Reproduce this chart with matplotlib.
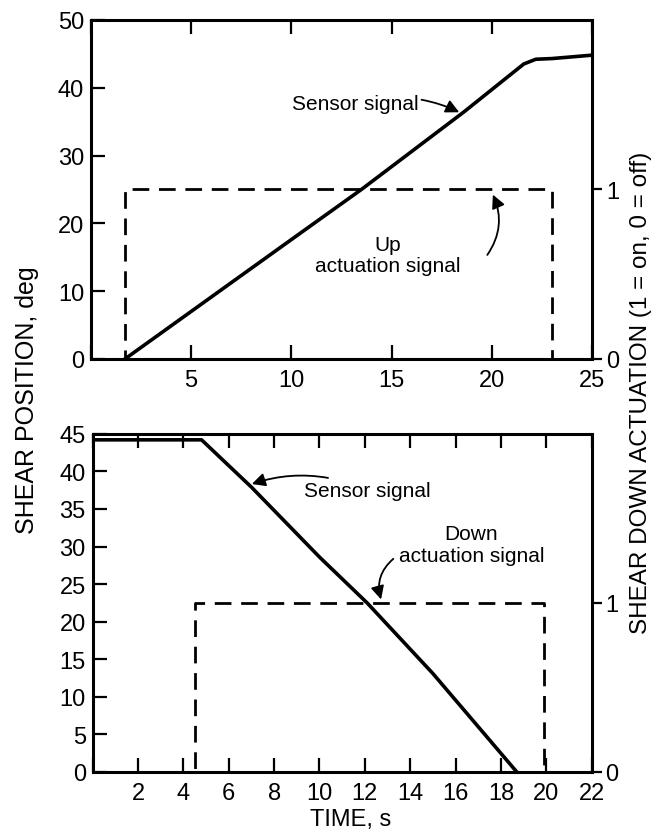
import matplotlib
matplotlib.use("Agg")
import matplotlib.pyplot as plt

# upper panel: shear up
up_time = [1.7, 5.0, 10.0, 13.5, 18.6, 21.6, 22.2, 23.0, 25.0]
up_position = [0.0, 7.0, 17.6, 25.0, 36.4, 43.5, 44.2, 44.3, 44.8]
up_act_time = [0.0, 1.7, 1.7, 23.0, 23.0, 25.0]
up_act_value = [0, 0, 1, 1, 0, 0]

# lower panel: shear down
down_time = [0.0, 4.8, 7.0, 10.0, 12.1, 15.0, 18.7]
down_position = [44.2, 44.2, 37.9, 28.6, 22.5, 13.1, 0.0]
down_act_time = [0.0, 4.5, 4.5, 19.9, 19.9, 22.0]
down_act_value = [0, 0, 1, 1, 0, 0]

plt.rcParams['font.family'] = ['Liberation Sans', 'DejaVu Sans']
FS = 17
AFS = 15

fig = plt.figure(figsize=(6.67, 8.37), dpi=100)
ax1 = fig.add_axes([0.1364, 0.570, 0.751, 0.405])
ax2 = fig.add_axes([0.139, 0.0765, 0.748, 0.404])


def style_axes(ax):
    for sp in ax.spines.values():
        sp.set_linewidth(2.2)
    ax.tick_params(direction='in', length=10, width=1.6, labelsize=FS,
                   top=True, right=False)
    ax.tick_params(axis='x', pad=7)
    ax.tick_params(axis='y', pad=5)


def style_twin(ax):
    ax.set_ylim(0, 2)
    ax.set_yticks([0, 1])
    ax.set_yticklabels(['0', '1'])
    ax.tick_params(axis='y', direction='out', length=7, width=1.6,
                   labelsize=FS, pad=3)


# upper
ax1.plot(up_time, up_position, color='black', lw=2.6)
ax1.set_xlim(0, 25)
ax1.set_ylim(0, 50)
ax1.set_xticks([0, 5, 10, 15, 20, 25])
ax1.set_xticklabels(['', '5', '10', '15', '20', '25'])
ax1.set_yticks([0, 10, 20, 30, 40, 50])
style_axes(ax1)
t1 = ax1.twinx()
t1.plot(up_act_time, up_act_value, color='black', lw=2.0, dashes=(6, 3.5))
t1.set_xlim(0, 25)
style_twin(t1)

ax1.annotate('Sensor signal', xy=(18.5, 36.2), xytext=(13.2, 37.6),
             fontsize=AFS, ha='center', va='center',
             arrowprops=dict(arrowstyle='-|>', color='black', lw=1.3,
                             mutation_scale=20, shrinkA=50,
                             connectionstyle='arc3,rad=-0.2'))
ax1.text(14.8, 15.3, 'Up\nactuation signal', fontsize=AFS, ha='center',
         va='center', linespacing=1.1)
ax1.annotate('', xy=(20.0, 24.6), xytext=(19.7, 15.0),
             arrowprops=dict(arrowstyle='-|>', color='black', lw=1.3,
                             mutation_scale=20,
                             connectionstyle='arc3,rad=0.3'))

# lower
ax2.plot(down_time, down_position, color='black', lw=2.6)
ax2.set_xlim(0, 22)
ax2.set_ylim(0, 45)
ax2.set_xticks(list(range(0, 23, 2)))
ax2.set_xticklabels([''] + [str(v) for v in range(2, 23, 2)])
ax2.set_yticks(list(range(0, 46, 5)))
style_axes(ax2)
t2 = ax2.twinx()
t2.plot(down_act_time, down_act_value, color='black', lw=2.0, dashes=(6, 3.5))
t2.set_xlim(0, 22)
style_twin(t2)

ax2.annotate('Sensor signal', xy=(6.9, 38.2), xytext=(12.1, 37.5),
             fontsize=AFS, ha='center', va='center',
             arrowprops=dict(arrowstyle='-|>', color='black', lw=1.3,
                             mutation_scale=20, shrinkA=60,
                             connectionstyle='arc3,rad=0.2'))
ax2.text(16.7, 30.3, 'Down\nactuation signal', fontsize=AFS, ha='center',
         va='center', linespacing=1.2)
ax2.annotate('', xy=(12.75, 22.6), xytext=(13.35, 28.6),
             arrowprops=dict(arrowstyle='-|>', color='black', lw=1.3,
                             mutation_scale=20,
                             connectionstyle='arc3,rad=0.35'))

fig.text(0.04, 0.522, 'SHEAR POSITION, deg', rotation=90, fontsize=18,
         ha='center', va='center')
fig.text(0.961, 0.531, 'SHEAR DOWN ACTUATION (1 = on, 0 = off)', rotation=90,
         fontsize=17.5, ha='center', va='center')
fig.text(0.526, 0.02, 'TIME, s', fontsize=17, ha='center', va='center')

fig.savefig('out.png', dpi=100)
